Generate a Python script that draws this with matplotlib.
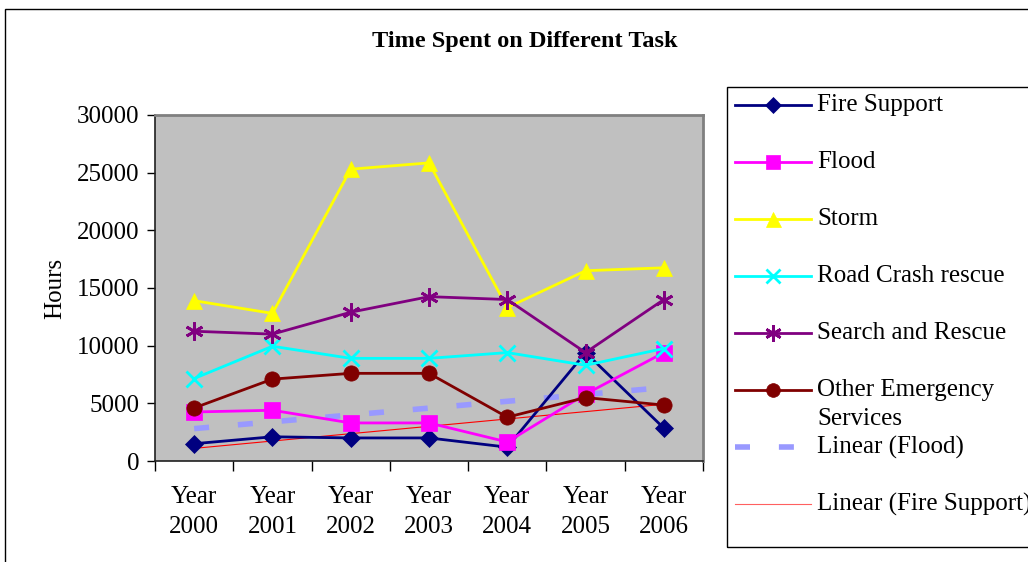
import numpy as np
import matplotlib
matplotlib.use("Agg")
import matplotlib.pyplot as plt
from matplotlib.lines import Line2D
from matplotlib.patches import Rectangle

# Daten ------------------------------------------------------------------------
years = ["Year\n2000", "Year\n2001", "Year\n2002", "Year\n2003",
         "Year\n2004", "Year\n2005", "Year\n2006"]
fire_support = [1500, 2100, 2000, 2000, 1200, 9400, 2850]
flood = [4250, 4400, 3300, 3300, 1650, 5800, 9400]
storm = [13900, 12800, 25300, 25850, 13300, 16500, 16750]
road_crash = [7150, 9950, 8900, 8900, 9400, 8300, 9750]
search_rescue = [11250, 11000, 12900, 14250, 14000, 9400, 14000]
other_emergency = [4600, 7100, 7600, 7600, 3800, 5500, 4850]
yticks = [0, 5000, 10000, 15000, 20000, 25000, 30000]

plt.rcParams['font.family'] = ['Liberation Serif', 'DejaVu Serif']
FS = 18

W, H = 1028, 562
fig = plt.figure(figsize=(W / 100, H / 100), dpi=100)
ax = fig.add_axes([155 / W, 1 - 461 / H, (703 - 155) / W, (461 - 115) / H])
ax.set_facecolor('#C0C0C0')

x = np.arange(len(years))
asterisk = (6, 2, 0)

series = [
    ("Fire Support", fire_support, '#000080', 'D', 9),
    ("Flood", flood, '#FF00FF', 's', 11),
    ("Storm", storm, '#FFFF00', '^', 12),
    ("Road Crash rescue", road_crash, '#00FFFF', 'x', 11),
    ("Search and Rescue", search_rescue, '#800080', asterisk, 13),
    ("Other Emergency\nServices", other_emergency, '#800000', 'o', 11),
]

# Trendlinien (lineare Regression)
p_flood = np.polyfit(x, flood, 1)
p_fire = np.polyfit(x, fire_support, 1)
ax.plot(x, np.polyval(p_flood, x), color='#9999FF', lw=4,
        dashes=(2.7, 5.2), dash_capstyle='butt', zorder=2)
ax.plot(x, np.polyval(p_fire, x), color='#FF0000', lw=0.8, zorder=2)

for label, vals, col, mk, ms in series:
    ax.plot(x, vals, color=col, lw=2, marker=mk, markersize=ms,
            markeredgewidth=2 if mk in ('x', asterisk) else 0.5,
            markerfacecolor=col, markeredgecolor=col, zorder=3)

ax.set_xlim(-0.5, len(years) - 0.5)
ax.set_ylim(0, 30000)
ax.set_yticks(yticks)
ax.set_yticklabels([str(v) for v in yticks], fontsize=FS)
ax.set_xticks(x)
ax.set_xticklabels(years, fontsize=FS, linespacing=1.45)
ax.set_xticks(np.arange(-0.5, len(years)), minor=True)
ax.tick_params(axis='x', which='major', length=0, pad=18)
ax.tick_params(axis='x', which='minor', length=7, width=1, direction='out')
ax.tick_params(axis='y', length=6, width=1, direction='out', pad=5)
ax.set_ylabel("Hours", fontsize=FS, labelpad=8)

for side in ('top', 'right'):
    ax.spines[side].set_color('#808080')
    ax.spines[side].set_linewidth(2)
for side in ('left', 'bottom'):
    ax.spines[side].set_color('#202020')
    ax.spines[side].set_linewidth(1.2)

fig.text(525 / W, 1 - 42 / H, "Time Spent on Different Task", ha='center', va='center',
         fontsize=17.5, fontweight='bold')

# Rahmen
fig.add_artist(Rectangle((5 / W, -0.05), 1.1, 1 - 9 / H + 0.05, transform=fig.transFigure,
                         fill=False, edgecolor='black', lw=1))
fig.add_artist(Rectangle((727 / W, 1 - 547 / H), 1.1, (547 - 87) / H,
                         transform=fig.transFigure, fill=False, edgecolor='black', lw=1))

# Legende
for i, (lab, _, col, mk, ms) in enumerate(series):
    yy = 1 - (105 + 57 * i) / H
    fig.add_artist(Line2D([735 / W, 811 / W], [yy, yy], transform=fig.transFigure,
                          color=col, lw=2))
    fig.add_artist(Line2D([773 / W], [yy], transform=fig.transFigure, color=col,
                          marker=mk, markersize=ms * 0.9, markerfacecolor=col,
                          markeredgecolor=col,
                          markeredgewidth=2 if mk in ('x', asterisk) else 0.5))
    if '\n' in lab:
        fig.text(817 / W, yy - 14.5 / H, lab, ha='left', va='center',
                 fontsize=FS, linespacing=1.4)
    else:
        fig.text(817 / W, yy, lab, ha='left', va='center', fontsize=FS)

yy = 1 - (105 + 57 * 6) / H
fig.add_artist(Line2D([735 / W, 811 / W], [yy, yy], transform=fig.transFigure,
                      color='#9999FF', lw=4, dashes=(2.7, 5.2), dash_capstyle='butt'))
fig.text(817 / W, yy, "Linear (Flood)", ha='left', va='center', fontsize=FS)
yy = 1 - (105 + 57 * 7) / H
fig.add_artist(Line2D([735 / W, 811 / W], [yy, yy], transform=fig.transFigure,
                      color='#FF6060', lw=0.8))
fig.text(817 / W, yy, "Linear (Fire Support)", ha='left', va='center', fontsize=FS)

fig.savefig("out.png", dpi=100)
